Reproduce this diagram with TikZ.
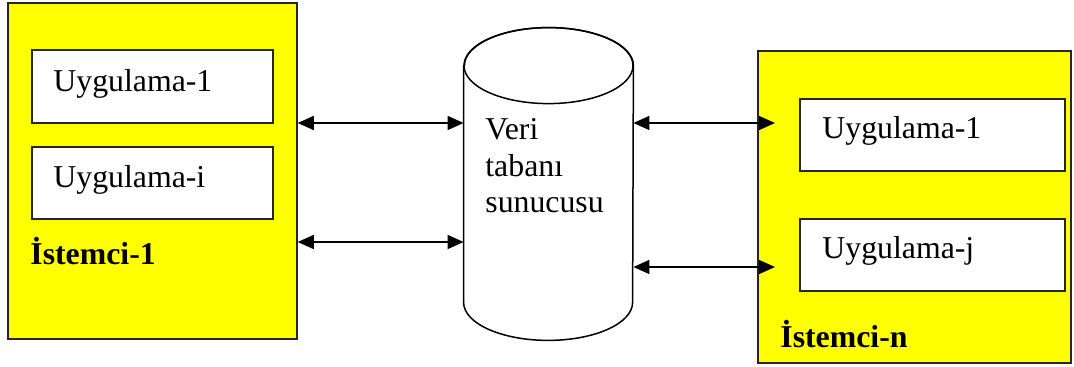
\documentclass[tikz,border=0pt]{standalone}
\usepackage{fontspec}
\setmainfont{Liberation Serif}
\usetikzlibrary{fit,arrows.meta}
\definecolor{clientyellow}{RGB}{255,255,0}
\begin{document}
\begin{tikzpicture}[x=0.5pt,y=0.5pt,
  client/.style={draw=black!85, line width=0.75pt, fill=clientyellow, inner sep=0pt},
  app/.style={draw=black!85, line width=0.75pt, fill=white, inner sep=0pt},
  txt/.style={anchor=base west, inner sep=0pt, font=\fontsize{15.9}{18}\selectfont},
  bold/.style={txt, font=\fontsize{15.9}{18}\selectfont\bfseries},
  link/.style={line width=0.7pt, {Triangle[length=8pt,width=7pt]}-{Triangle[length=8pt,width=7pt]}}]
\useasboundingbox (0,0) rectangle (1074,-367);

% left client
\node[client, fit={(8,-3) (297,-339)}] (L) {};
\node[app, fit={(32,-50) (273,-123)}] (La) {};
\node[app, fit={(32,-147) (273,-219)}] (Lb) {};
\node[txt] (LaT) at (53,-92) {Uygulama-1};
\node[txt] (LbT) at (53,-188) {Uygulama-i};
\node[bold] (LT) at (30,-265) {İstemci-1};

% right client
\node[client, fit={(758,-51) (1071,-363)}] (R) {};
\node[app, fit={(800,-99) (1065,-171)}] (Ra) {};
\node[app, fit={(800,-219) (1065,-291)}] (Rb) {};
\node[txt] (RaT) at (822,-139) {Uygulama-1};
\node[txt] (RbT) at (822,-259) {Uygulama-j};
\node[bold] (RT) at (780,-348) {İstemci-n};

% database server (cylinder)
\node[inner sep=0pt, fit={(464,-66) (633,-302)}] (db) {};
\draw[line width=0.75pt, fill=white]
  (db.north west) -- (db.south west)
  arc[start angle=180, end angle=360, x radius=84.5, y radius=38]
  -- (db.north east)
  arc[start angle=0, end angle=180, x radius=84.5, y radius=38] -- cycle;
\draw[line width=0.75pt] (db.north) ellipse[x radius=84.5, y radius=38];
\node[txt] (dbT1) at (485,-140) {Veri};
\node[txt] (dbT2) at (485,-177) {tabanı};
\node[txt] (dbT3) at (485,-213) {sunucusu};

% connectors
\coordinate (r1) at (775,-123);
\coordinate (r2) at (775,-267);
\draw[link] (L.east |- 0,-123) -- (db.west |- 0,-123);
\draw[link] (L.east |- 0,-242) -- (db.west |- 0,-242);
\draw[link] (db.east |- r1) -- (r1);
\draw[link] (db.east |- r2) -- (r2);
\end{tikzpicture}
\end{document}
